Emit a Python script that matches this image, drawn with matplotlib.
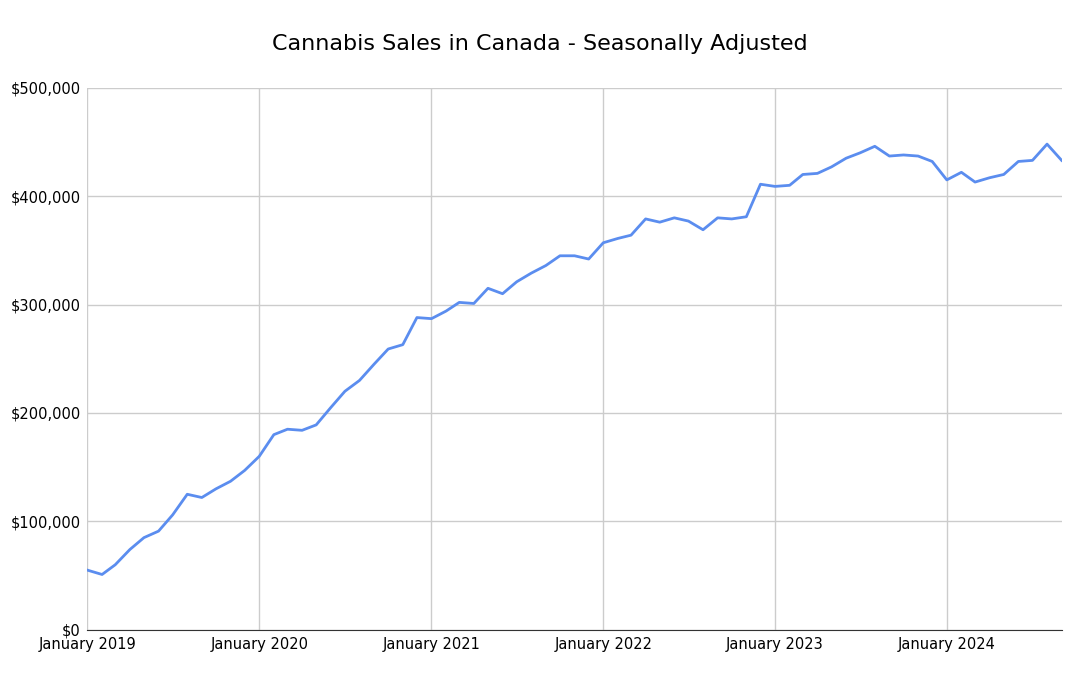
import matplotlib
matplotlib.use("Agg")
import matplotlib.pyplot as plt
import pandas as pd

start = "2019-01"
sales = [55, 51, 60, 74, 85, 91, 106, 125, 122, 130, 137, 147,
         160, 180, 185, 184, 189, 205, 220, 230, 245, 259, 263, 288,
         287, 294, 302, 301, 315, 310, 321, 329, 336, 345, 345, 342,
         357, 361, 364, 379, 376, 380, 377, 369, 380, 379, 381, 411,
         409, 410, 420, 421, 427, 435, 440, 446, 437, 438, 437, 432,
         415, 422, 413, 417, 420, 432, 433, 448, 433]
sales = [v * 1000 for v in sales]
dates = pd.date_range(start, periods=len(sales), freq="MS")
year_ticks = pd.date_range("2019-01", "2024-01", freq="YS")
tick_labels = [f"January {d.year}" for d in year_ticks]
y_ticks = [0, 100000, 200000, 300000, 400000, 500000]
y_labels = ["$0"] + [f"${v:,}" for v in y_ticks[1:]]

fig = plt.figure(figsize=(10.8, 6.75), dpi=100)
ax = fig.add_axes([0.081, 0.067, 0.902, 0.803])
ax.plot(dates, sales, color="#5b8def", lw=2)
ax.set_xlim(dates[0], dates[-1])
ax.set_ylim(0, 500000)
ax.set_xticks(year_ticks)
ax.set_xticklabels(tick_labels, fontsize=10.5)
ax.set_yticks(y_ticks)
ax.set_yticklabels(y_labels, fontsize=10.5)
ax.grid(True, color="#cccccc", lw=1)
ax.set_axisbelow(True)
for s in ["left", "right", "top"]:
    ax.spines[s].set_visible(False)
ax.spines["bottom"].set_color("#333333")
ax.tick_params(length=0, pad=5)
fig.suptitle("Cannabis Sales in Canada - Seasonally Adjusted", y=0.95, fontsize=16)
fig.savefig("out.png")
